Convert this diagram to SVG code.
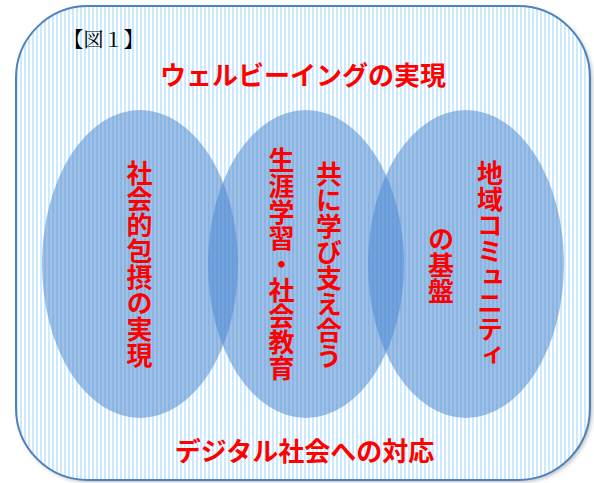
<svg xmlns="http://www.w3.org/2000/svg" width="594" height="483" viewBox="0 0 594 483">
  <defs>
    <pattern id="stripes" x="0" y="0" width="4" height="10" patternUnits="userSpaceOnUse">
      <rect x="0" y="0" width="4" height="10" fill="#ffffff"/>
      <rect x="0" y="0" width="2" height="10" fill="#cde9fc"/>
    </pattern>
    <filter id="shadow" x="-5%" y="-5%" width="110%" height="110%">
      <feGaussianBlur stdDeviation="2"/>
    </filter>
  </defs>
  <style>
    .ell { fill: #4a86d0; fill-opacity: 0.52; }
    .red { fill: #ff0000; font-family: "Noto Sans CJK JP", sans-serif; font-weight: bold; font-size: 26px; }
    .vert { writing-mode: vertical-rl; glyph-orientation-vertical: 0; }
    .cap { fill: #000000; font-family: "Noto Serif CJK JP", "Liberation Serif", "Noto Sans CJK JP", serif; font-size: 20px; }
  </style>
  <g id="frame">
    <rect x="18" y="8" width="574" height="474" rx="72" ry="72" fill="#888888" opacity="0.6" filter="url(#shadow)"/>
    <rect x="16" y="6" width="574" height="474" rx="72" ry="72" fill="url(#stripes)" stroke="#4f81bd" stroke-width="2"/>
  </g>
  <g id="caption">
    <text class="cap" x="103.5" y="38" text-anchor="middle" dominant-baseline="central">【図１】</text>
  </g>
  <g id="title">
    <text class="red" x="303" y="73.5" text-anchor="middle" dominant-baseline="central">ウェルビーイングの実現</text>
  </g>
  <g id="circle-left">
    <ellipse class="ell" cx="140" cy="264" rx="98" ry="154"/>
    <text class="red vert" x="139.5" y="160">社会的包摂の実現</text>
  </g>
  <g id="circle-middle">
    <ellipse class="ell" cx="306" cy="264" rx="98" ry="154"/>
    <text class="red vert" x="281.5" y="147">生涯学習・社会教育</text>
    <text class="red vert" x="329" y="161">共に学び支え合う</text>
  </g>
  <g id="circle-right">
    <ellipse class="ell" cx="466" cy="264" rx="98" ry="154"/>
    <text class="red vert" x="490" y="160">地域コミュニティ</text>
    <text class="red vert" x="441" y="226">の基盤</text>
  </g>
  <g id="footer">
    <text class="red" x="304.5" y="449.5" text-anchor="middle" dominant-baseline="central">デジタル社会への対応</text>
  </g>
  <g id="connectors"></g>
</svg>
